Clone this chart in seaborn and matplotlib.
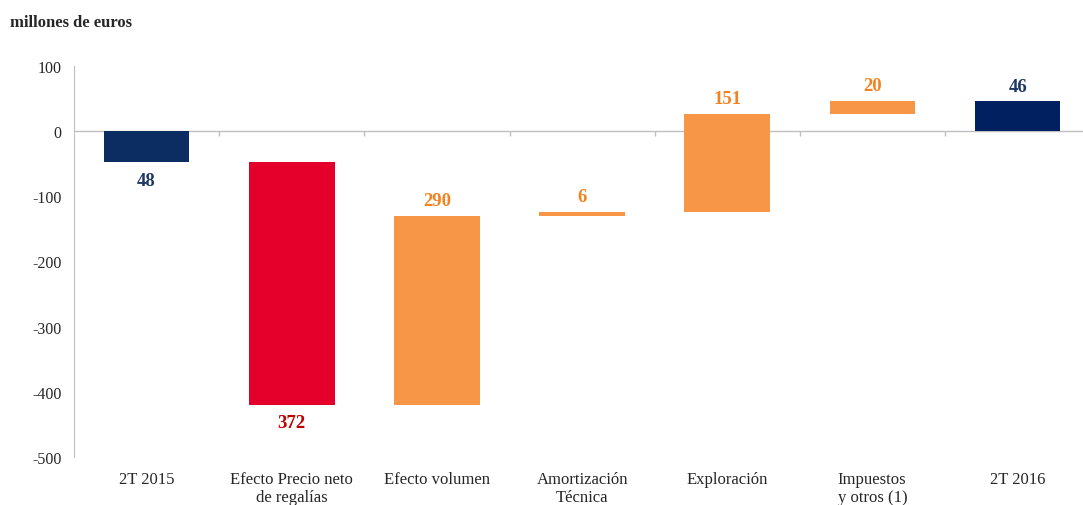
import numpy as np
import pandas as pd
import seaborn as sns
import matplotlib.pyplot as plt

categories = ["2T 2015", "Efecto Precio neto\nde regalías", "Efecto volumen",
              "Amortización\nTécnica", "Exploración", "Impuestos\ny otros (1)", "2T 2016"]
changes = [-48, -372, 290, 6, 151, 20, 46]
is_total = [True, False, False, False, False, False, True]
bar_colors = ["#0B2D62", "#E4002B", "#F79646", "#F79646", "#F79646", "#F79646", "#002060"]
label_colors = ["#1F3864", "#C00000", "#F58220", "#F58220", "#F58220", "#F58220", "#1F3864"]

# waterfall bases
bases = []
running = 0
for v, tot in zip(changes, is_total):
    if tot:
        bases.append(0)
        running = v
    else:
        bases.append(running)
        running += v

df = pd.DataFrame({"cat": categories, "change": changes, "base": bases})

sns.set_style("white")
plt.rcParams['font.family'] = ['Liberation Serif', 'DejaVu Serif']
plt.rcParams['axes.unicode_minus'] = False

fig = plt.figure(figsize=(10.83, 5.06), dpi=100)
ax = fig.add_axes([0.0683, 0.0949, 0.9317, 0.7727])

sns.barplot(data=df, x="cat", y="change", bottom=df["base"].to_numpy(),
            order=categories, color=bar_colors[0], width=0.59,
            errorbar=None, linewidth=0, ax=ax)
for patch, c in zip(ax.patches, bar_colors):
    patch.set_facecolor(c)

# value labels
for i, (v, b) in enumerate(zip(changes, bases)):
    lo, hi = sorted([b, b + v])
    if v < 0:
        y, va = lo - 14, "top"
    else:
        y, va = hi + 10, "bottom"
    ax.text(i, y, str(abs(v)), ha="center", va=va, fontsize=13.5,
            fontweight="bold", color=label_colors[i])

ax.set_ylim(-500, 100)
ax.set_xlim(-0.5, 6.45)
ax.set_yticks(np.arange(-500, 101, 100))
ax.axhline(0, color="#BFBFBF", lw=1, zorder=0)
ax.vlines(np.arange(0.5, 6.0, 1.0), 0, -8, color="#BFBFBF", lw=1)

for s in ["top", "right", "bottom"]:
    ax.spines[s].set_visible(False)
ax.spines["left"].set_color("#BFBFBF")
ax.tick_params(axis="y", length=5, color="#BFBFBF", labelsize=11.5, pad=4)
ax.tick_params(axis="x", length=0, labelsize=12, pad=10)
ax.set_xlabel("")
ax.set_ylabel("")
ax.get_xticklabels()[5].set_multialignment("left")

fig.text(0.009, 0.955, "millones de euros", fontsize=12, fontweight="bold",
         ha="left", va="center")

fig.savefig("out.png", dpi=100)
